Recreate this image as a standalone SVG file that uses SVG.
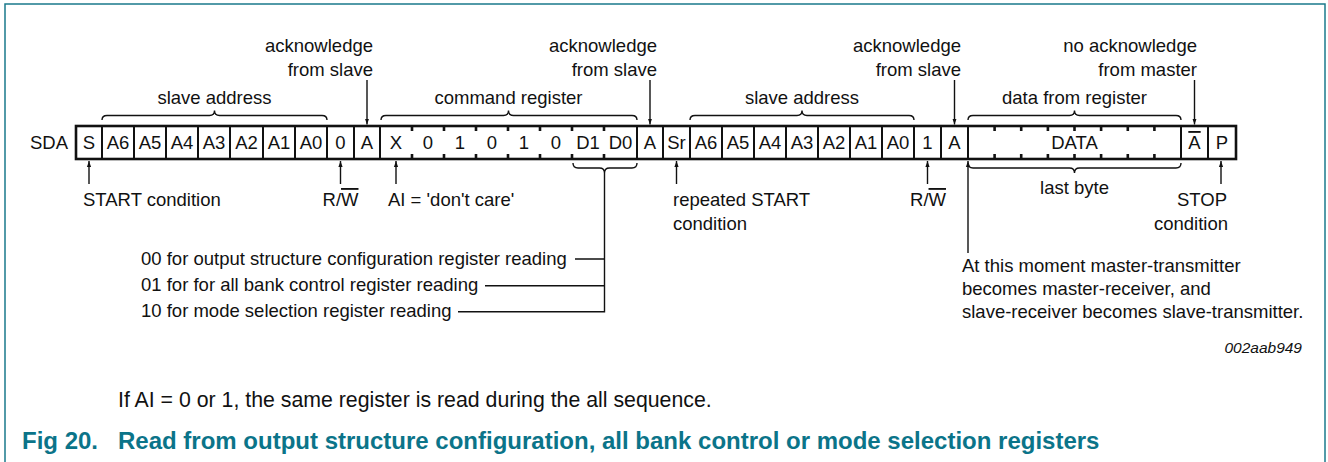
<svg xmlns="http://www.w3.org/2000/svg" width="1328" height="462" viewBox="0 0 1328 462">
<style>
text{font-family:"Liberation Sans",Arial,sans-serif;font-size:18.5px;fill:#111}
.c{text-anchor:middle}
.e{text-anchor:end}
.row{fill:none;stroke:#111;stroke-width:2.6}
.div{stroke:#111;stroke-width:2}
.tick{stroke:#111;stroke-width:2.6}
.br{fill:none;stroke:#111;stroke-width:1.4}
.ln{fill:none;stroke:#111;stroke-width:1.4}
.ar{fill:none;stroke:#111;stroke-width:1.4;marker-end:url(#ah)}
.title{font-weight:bold;fill:#0b7489;font-size:24px}
.foot{font-size:21.3px}
.ol{text-decoration:overline}
</style>
<defs>
<marker id="ah" viewBox="0 0 10 10" refX="10" refY="5" markerWidth="6" markerHeight="10" markerUnits="userSpaceOnUse" orient="auto">
<path d="M0,1.5 L10,5 L0,8.5 z" fill="#111"/>
</marker>
</defs>
<rect x="5" y="4" width="1320" height="480" fill="none" stroke="#1a7a8c" stroke-width="1.5"/>

<g id="sda-label"><text x="30" y="149">SDA</text></g>

<g id="bit-row">
<rect class="row" x="76" y="126" width="1160" height="33"/>
<g id="dividers">
<path class="div" d="M102,126V159M134,126V159M166,126V159M198,126V159M230,126V159M263,126V159M295,126V159M327,126V159M354,126V159M380,126V159M637,126V159M663,126V159M690,126V159M722,126V159M754,126V159M786,126V159M818,126V159M850,126V159M882,126V159M914,126V159M941,126V159M968,126V159M1181,126V159M1208,126V159"/>
<path class="tick" d="M412,126v5M412,159v-5M444,126v5M444,159v-5M476,126v5M476,159v-5M508,126v5M508,159v-5M540,126v5M540,159v-5M572,126v5M572,159v-5M604,126v5M604,159v-5"/>
<path class="tick" d="M994.6,126v5M994.6,159v-5M1021.2,126v5M1021.2,159v-5M1047.9,126v5M1047.9,159v-5M1074.5,126v5M1074.5,159v-5M1101.1,126v5M1101.1,159v-5M1127.8,126v5M1127.8,159v-5M1154.4,126v5M1154.4,159v-5"/>
</g>
<g id="bits">
<text class="c" x="89" y="149">S</text>
<text class="c" x="118" y="149">A6</text>
<text class="c" x="150" y="149">A5</text>
<text class="c" x="182" y="149">A4</text>
<text class="c" x="214" y="149">A3</text>
<text class="c" x="246.5" y="149">A2</text>
<text class="c" x="279" y="149">A1</text>
<text class="c" x="311" y="149">A0</text>
<text class="c" x="340.5" y="149">0</text>
<text class="c" x="367" y="149">A</text>
<text class="c" x="396" y="149">X</text>
<text class="c" x="428" y="149">0</text>
<text class="c" x="460" y="149">1</text>
<text class="c" x="492" y="149">0</text>
<text class="c" x="524" y="149">1</text>
<text class="c" x="556" y="149">0</text>
<text class="c" x="588" y="149">D1</text>
<text class="c" x="620.5" y="149">D0</text>
<text class="c" x="650" y="149">A</text>
<text class="c" x="676.5" y="149">Sr</text>
<text class="c" x="706" y="149">A6</text>
<text class="c" x="738" y="149">A5</text>
<text class="c" x="770" y="149">A4</text>
<text class="c" x="802" y="149">A3</text>
<text class="c" x="834" y="149">A2</text>
<text class="c" x="866" y="149">A1</text>
<text class="c" x="898" y="149">A0</text>
<text class="c" x="927.5" y="149">1</text>
<text class="c" x="954.5" y="149">A</text>
<text class="c" x="1074.5" y="149">DATA</text>
<text class="c" x="1194.5" y="149"><tspan class="ol">A</tspan></text>
<text class="c" x="1222" y="149">P</text>
</g>
</g>

<g id="braces">
<path class="br" d="M102,120Q102,115.5 107,115.5H209.5Q214.5,115.5 214.5,110.5Q214.5,115.5 219.5,115.5H322Q327,115.5 327,120"/>
<path class="br" d="M381,120Q381,115.5 386,115.5H503.5Q508.5,115.5 508.5,110.5Q508.5,115.5 513.5,115.5H632Q637,115.5 637,120"/>
<path class="br" d="M690,120Q690,115.5 695,115.5H797Q802,115.5 802,110.5Q802,115.5 807,115.5H909Q914,115.5 914,120"/>
<path class="br" d="M968,120Q968,115.5 973,115.5H1069.5Q1074.5,115.5 1074.5,110.5Q1074.5,115.5 1079.5,115.5H1176Q1181,115.5 1181,120"/>
<path class="br" d="M573,163Q573,168 578,168H599.5Q604.5,168 604.5,173Q604.5,168 609.5,168H632Q637,168 637,163"/>
<path class="br" d="M968,163Q968,168 973,168H1069.5Q1074.5,168 1074.5,173Q1074.5,168 1079.5,168H1176Q1181,168 1181,163"/>
</g>

<g id="connectors">
<line class="ar" x1="367" y1="80" x2="367" y2="124.5"/>
<line class="ar" x1="650" y1="80" x2="650" y2="124.5"/>
<line class="ar" x1="954.5" y1="80" x2="954.5" y2="124.5"/>
<line class="ar" x1="1194.5" y1="80" x2="1194.5" y2="124.5"/>
<line class="ar" x1="89" y1="184" x2="89" y2="161"/>
<line class="ar" x1="340.5" y1="184" x2="340.5" y2="161"/>
<line class="ar" x1="396" y1="184" x2="396" y2="161"/>
<line class="ar" x1="676.5" y1="184" x2="676.5" y2="161"/>
<line class="ar" x1="927.5" y1="184" x2="927.5" y2="161"/>
<line class="ar" x1="1221" y1="184" x2="1221" y2="161"/>
<line class="ar" x1="968" y1="253" x2="968" y2="161"/>
<path class="ln" d="M604.5,173V311.7H458M604.5,259H575M604.5,285.7H485"/>
</g>

<g id="label-ack1"><text class="e" x="373" y="52">acknowledge</text><text class="e" x="373" y="76">from slave</text></g>
<g id="label-ack2"><text class="e" x="657" y="52">acknowledge</text><text class="e" x="657" y="76">from slave</text></g>
<g id="label-ack3"><text class="e" x="961" y="52">acknowledge</text><text class="e" x="961" y="76">from slave</text></g>
<g id="label-nack"><text class="e" x="1197" y="52">no acknowledge</text><text class="e" x="1197" y="76">from master</text></g>
<g id="label-slave1"><text class="c" x="214.5" y="104">slave address</text></g>
<g id="label-cmd"><text class="c" x="508.5" y="104">command register</text></g>
<g id="label-slave2"><text class="c" x="802" y="104">slave address</text></g>
<g id="label-data"><text class="c" x="1074.5" y="104">data from register</text></g>
<g id="label-start"><text x="83" y="206">START condition</text></g>
<g id="label-rw1"><text class="c" x="340.5" y="206">R/<tspan class="ol">W</tspan></text></g>
<g id="label-ai"><text x="388" y="206">AI = 'don't care'</text></g>
<g id="label-sr"><text x="673" y="206">repeated START</text><text x="673" y="230">condition</text></g>
<g id="label-rw2"><text class="c" x="928" y="206">R/<tspan class="ol">W</tspan></text></g>
<g id="label-last"><text class="c" x="1074.5" y="194">last byte</text></g>
<g id="label-stop"><text class="e" x="1227" y="206">STOP</text><text class="e" x="1228" y="230">condition</text></g>
<g id="label-options">
<text x="141" y="265">00 for output structure configuration register reading</text>
<text x="141" y="291">01 for for all bank control register reading</text>
<text x="141" y="317">10 for mode selection register reading</text>
</g>
<g id="label-moment">
<text x="962" y="272">At this moment master-transmitter</text>
<text x="962" y="295">becomes master-receiver, and</text>
<text x="962" y="318">slave-receiver becomes slave-transmitter.</text>
</g>
<g id="label-code"><text class="e" x="1302" y="353" style="font-style:italic;font-size:15.5px">002aab949</text></g>
<g id="footnote"><text class="foot" x="118" y="407">If AI = 0 or 1, the same register is read during the all sequence.</text></g>
<g id="caption"><text class="title" x="22" y="449">Fig 20.</text><text class="title" x="118" y="449">Read from output structure configuration, all bank control or mode selection registers</text></g>
</svg>
